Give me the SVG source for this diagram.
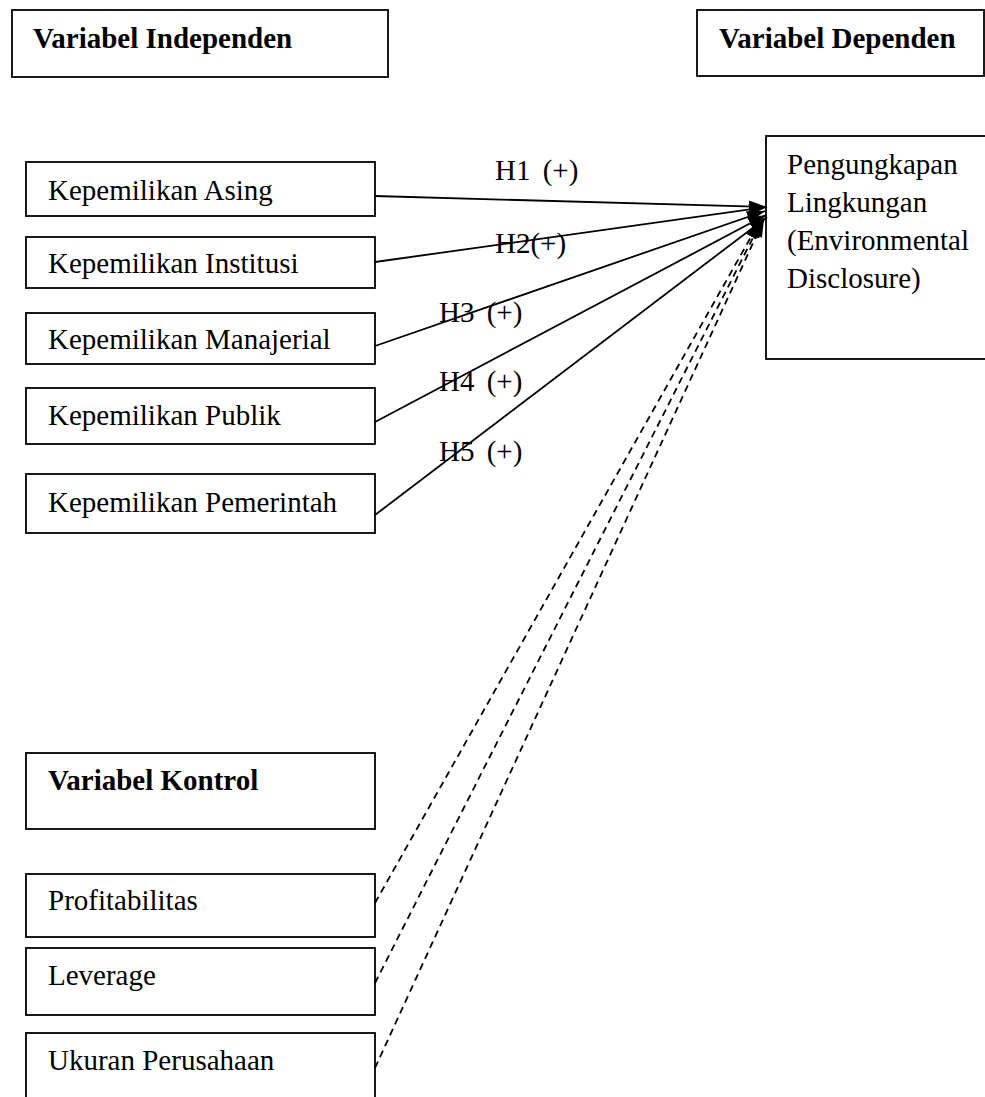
<svg xmlns="http://www.w3.org/2000/svg" width="985" height="1097" viewBox="0 0 985 1097">
<style>
.box{fill:#fff;stroke:#000;stroke-width:1.8}
.t{font-family:"Liberation Serif","Times New Roman",serif;font-size:29px;fill:#000}
.b{font-weight:bold}
.lbl{font-family:"Liberation Serif","Times New Roman",serif;font-size:29px;fill:#000;word-spacing:5px}
.conn{stroke:#000;stroke-width:1.8;fill:none;marker-end:url(#ah)}
.dash{stroke-dasharray:7,5}
</style>
<defs>
<marker id="ah" viewBox="0 0 18 12" refX="18" refY="6" markerWidth="18" markerHeight="12" orient="auto" markerUnits="userSpaceOnUse">
<path d="M0,0 L18,6 L0,12 z" fill="#000"/>
</marker>
</defs>
<rect width="985" height="1097" fill="#fff"/>
<g id="hdr-independen"><rect class="box" x="12" y="10" width="376" height="67"/><text class="t b" x="33" y="48">Variabel Independen</text></g>
<g id="hdr-dependen"><rect class="box" x="697" y="10" width="287" height="66"/><text class="t b" x="719" y="48">Variabel Dependen</text></g>
<g id="n-asing"><rect class="box" x="26" y="162" width="349" height="54"/><text class="t" x="48" y="200">Kepemilikan Asing</text></g>
<g id="n-institusi"><rect class="box" x="26" y="237" width="349" height="51"/><text class="t" x="48" y="273">Kepemilikan Institusi</text></g>
<g id="n-manajerial"><rect class="box" x="26" y="313" width="349" height="51"/><text class="t" x="48" y="349">Kepemilikan Manajerial</text></g>
<g id="n-publik"><rect class="box" x="26" y="388" width="349" height="56"/><text class="t" x="48" y="425">Kepemilikan Publik</text></g>
<g id="n-pemerintah"><rect class="box" x="26" y="474" width="349" height="59"/><text class="t" x="48" y="512">Kepemilikan Pemerintah</text></g>
<g id="n-dependen"><rect class="box" x="766" y="136" width="240" height="223"/>
<text class="t" x="787" y="174">Pengungkapan</text>
<text class="t" x="787" y="212">Lingkungan</text>
<text class="t" x="787" y="250">(Environmental</text>
<text class="t" x="787" y="288">Disclosure)</text></g>
<g id="hdr-kontrol"><rect class="box" x="26" y="753" width="349" height="76"/><text class="t b" x="48" y="790">Variabel Kontrol</text></g>
<g id="n-profit"><rect class="box" x="26" y="874" width="349" height="63"/><text class="t" x="48" y="910">Profitabilitas</text></g>
<g id="n-leverage"><rect class="box" x="26" y="948" width="349" height="67"/><text class="t" x="48" y="985">Leverage</text></g>
<g id="n-ukuran"><rect class="box" x="26" y="1033" width="349" height="80"/><text class="t" x="48" y="1070">Ukuran Perusahaan</text></g>
<g id="connectors">
<line class="conn" x1="375" y1="196" x2="767" y2="207"/>
<line class="conn" x1="375" y1="262" x2="767" y2="207"/>
<line class="conn" x1="375" y1="346" x2="765" y2="211"/>
<line class="conn" x1="375" y1="422" x2="766" y2="215"/>
<line class="conn" x1="375" y1="515" x2="767" y2="217"/>
<line class="conn dash" x1="375" y1="903" x2="760" y2="221"/>
<line class="conn dash" x1="375" y1="983" x2="762" y2="220"/>
<line class="conn dash" x1="375" y1="1068" x2="764" y2="219"/>
</g>
<g id="labels">
<text class="lbl" x="495" y="180">H1 (+)</text>
<text class="lbl" x="495" y="253">H2(+)</text>
<text class="lbl" x="439" y="322">H3 (+)</text>
<text class="lbl" x="439" y="391">H4 (+)</text>
<text class="lbl" x="439" y="461">H5 (+)</text>
</g>
</svg>
